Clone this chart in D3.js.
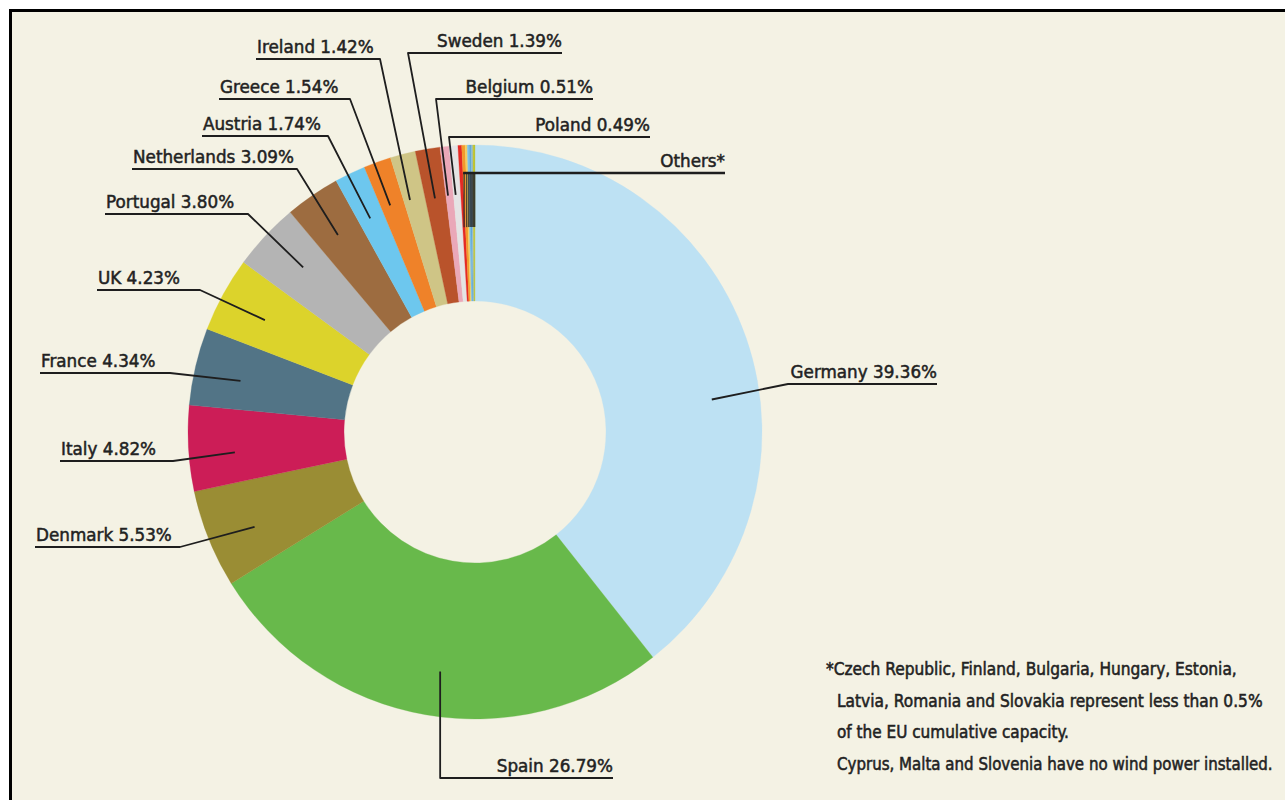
<!DOCTYPE html>
<html>
<head>
<meta charset="utf-8">
<script src="https://cdn.jsdelivr.net/npm/d3@7/dist/d3.min.js"></script>
<style>
  html, body { margin: 0; padding: 0; background: #ffffff; }
  svg { display: block; }
</style>
</head>
<body>
<svg id="chart" width="1285" height="800"></svg>
<script>
// Share of EU cumulative wind capacity, clockwise from 12 o'clock
const countries = ["Germany", "Spain", "Denmark", "Italy", "France", "UK", "Portugal",
  "Netherlands", "Austria", "Greece", "Ireland", "Sweden", "Belgium", "Poland"];
const shares = [39.36, 26.79, 5.53, 4.82, 4.34, 4.23, 3.80, 3.09, 1.74, 1.54, 1.42, 1.39, 0.51, 0.49];
const colors = ["#bde1f3", "#68b94b", "#9a8d34", "#cc1d57", "#527486", "#dcd32b", "#b4b4b4",
  "#9d6c40", "#6dc7ee", "#ef8229", "#cfc586", "#b9532b", "#eaa8b8", "#e4e4e4"];

// Small producers grouped under "Others*" (each below 0.5%)
const otherCountries = ["Czech Republic", "Finland", "Bulgaria", "Hungary", "Estonia", "Latvia", "Romania", "Slovakia"];
const otherShares = [0.21, 0.19, 0.12, 0.11, 0.10, 0.10, 0.06, 0.06];
const otherColors = ["#e52a24", "#f39a2b", "#f6cf5e", "#7fc2e6", "#5fa9d8", "#8fb9cf", "#c9c72e", "#b8c23a"];

const footnote = [
  "*Czech Republic, Finland, Bulgaria, Hungary, Estonia,",
  "Latvia, Romania and Slovakia represent less than 0.5%",
  "of the EU cumulative capacity.",
  "Cyprus, Malta and Slovenia have no wind power installed."
];
// Footnote line widths for the narrow setting
const footnoteWidths = [411, 426, 232, 436];

// Label placement: side, text x, underline y, elbow x, leader end (fraction through slice, radius)
const labelLayout = {
  "Germany":     { side: "right", x: 937, uy: 384, elbow: 788, t: 0.58, r: 239 },
  "Spain":       { side: "right", x: 613, uy: 778, elbow: null, t: 0.483, r: 242 },
  "Denmark":     { side: "left",  x: 36,  uy: 547, elbow: 180, t: 0.43, r: 240 },
  "Italy":       { side: "left",  x: 61,  uy: 461, elbow: 173, t: 0.41, r: 241 },
  "France":      { side: "left",  x: 41,  uy: 373, elbow: 170, t: 0.44, r: 240 },
  "UK":          { side: "left",  x: 98,  uy: 290, elbow: 200, t: 0.46, r: 238 },
  "Portugal":    { side: "left",  x: 106, uy: 214, elbow: 248, t: 0.55, r: 238 },
  "Netherlands": { side: "left",  x: 133, uy: 169, elbow: 297, t: 0.47, r: 240 },
  "Austria":     { side: "left",  x: 203, uy: 136, elbow: 328, t: 0.45, r: 238 },
  "Greece":      { side: "left",  x: 220, uy: 99,  elbow: 350, t: 0.39, r: 242 },
  "Ireland":     { side: "left",  x: 257, uy: 59,  elbow: 380, t: 0.29, r: 241 },
  "Sweden":      { side: "right", x: 562, uy: 53,  elbow: 408, t: 0.46, r: 237 },
  "Belgium":     { side: "right", x: 593, uy: 99,  elbow: 436, t: 0.28, r: 238 },
  "Poland":      { side: "right", x: 650, uy: 137, elbow: 449, t: 0.30, r: 238 }
};
const othersLayout = { x: 725, uy: 173, r: 205 };

const svg = d3.select("#chart");
const W = 1285, H = 800;
const cx = 475, cy = 432;
const outerR = 287, innerR = 131;
const ink = "#1e1e1e";

// Panel with black rule on top and left
svg.append("rect").attr("x", 10).attr("y", 10).attr("width", W - 10).attr("height", H - 10)
  .attr("fill", "#f4f2e4");
svg.append("path").attr("d", `M10.5,${H} V10.5 H${W}`)
  .attr("fill", "none").attr("stroke", "#000").attr("stroke-width", 3);

const slices = countries.map((c, i) => ({ name: c, value: shares[i], color: colors[i], group: "main" }))
  .concat(otherCountries.map((c, i) => ({ name: c, value: otherShares[i], color: otherColors[i], group: "other" })));

const pie = d3.pie().sort(null).value(d => d.value).startAngle(0).endAngle(2 * Math.PI);
const arcs = pie(slices);
const arc = d3.arc().innerRadius(innerR).outerRadius(outerR);

const g = svg.append("g").attr("transform", `translate(${cx},${cy})`);
g.selectAll("path.slice").data(arcs).join("path")
  .attr("class", "slice")
  .attr("d", arc)
  .attr("fill", d => d.data.color)
  .attr("stroke", d => d.data.color)
  .attr("stroke-width", 0.3);

const polar = (a, r) => [cx + r * Math.sin(a), cy - r * Math.cos(a)];

const labelFont = "'DejaVu Sans', sans-serif";
const lines = svg.append("g");
const texts = svg.append("g");

arcs.filter(d => d.data.group === "main").forEach(d => {
  const L = labelLayout[d.data.name];
  const a = d.startAngle + L.t * (d.endAngle - d.startAngle);
  const [ex, ey] = polar(a, L.r);
  const elbow = L.elbow === null ? ex : L.elbow;
  const startX = L.side === "left" ? L.x - 1 : L.x;
  lines.append("path")
    .attr("d", `M${startX},${L.uy} H${elbow} L${ex},${ey}`)
    .attr("fill", "none").attr("stroke", ink).attr("stroke-width", 1.8)
    .attr("stroke-linejoin", "round");
  texts.append("text")
    .attr("x", L.x)
    .attr("y", L.uy - 6)
    .attr("text-anchor", L.side === "left" ? "start" : "end")
    .attr("font-family", labelFont)
    .attr("font-size", 16.8)
    .attr("fill", "#222")
    .attr("stroke", "#222")
    .attr("stroke-width", 0.5)
    .text(`${d.data.name} ${d.data.value.toFixed(2)}%`);
});

// "Others*" bracket: one drop line into each small slice
const otherArcs = arcs.filter(d => d.data.group === "other");
const dropX = otherArcs.map(d => {
  const a = (d.startAngle + d.endAngle) / 2;
  const [px, py] = polar(a, othersLayout.r);
  lines.append("line")
    .attr("x1", px).attr("y1", othersLayout.uy)
    .attr("x2", px).attr("y2", py)
    .attr("stroke", "#2a2a2a").attr("stroke-opacity", 0.8).attr("stroke-width", 1.5);
  return px;
});
lines.append("line")
  .attr("x1", d3.min(dropX) - 1).attr("y1", othersLayout.uy)
  .attr("x2", othersLayout.x).attr("y2", othersLayout.uy)
  .attr("stroke", ink).attr("stroke-width", 2.6);
texts.append("text")
  .attr("x", othersLayout.x).attr("y", othersLayout.uy - 6)
  .attr("text-anchor", "end")
  .attr("font-family", labelFont)
  .attr("font-size", 16.8)
  .attr("fill", "#222").attr("stroke", "#222").attr("stroke-width", 0.5)
  .text("Others*");

// Footnote: narrow setting made by squeezing each line horizontally
const noteFont = "'DejaVu Sans Condensed', 'DejaVu Sans', sans-serif";
const note = svg.append("g");
footnote.forEach((s, i) => {
  const x0 = i === 0 ? 826 : 837;
  const y0 = 675 + i * 31.5;
  const t = note.append("text")
    .attr("x", 0)
    .attr("y", 0)
    .attr("font-family", noteFont)
    .attr("font-size", 18.5)
    .attr("fill", "#222")
    .attr("stroke", "#222")
    .attr("stroke-width", 0.55)
    .text(s);
  const natural = t.node().getComputedTextLength();
  const k = footnoteWidths[i] / natural;
  t.attr("transform", `translate(${x0},${y0}) scale(${k},1)`);
});
</script>
</body>
</html>
